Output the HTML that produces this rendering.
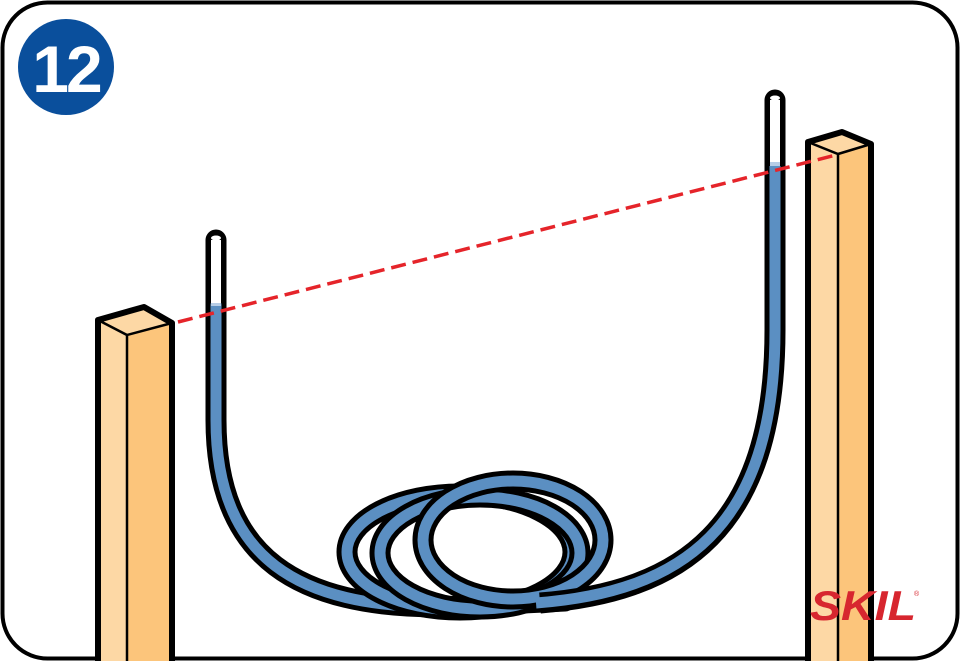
<!DOCTYPE html>
<html><head><meta charset="utf-8"><style>html,body{margin:0;padding:0;background:#fff}svg{display:block}</style></head>
<body>
<svg width="960" height="661" viewBox="0 0 960 661" xmlns="http://www.w3.org/2000/svg">
<rect x="2.5" y="2.5" width="955" height="656" rx="45" fill="#fff" stroke="#000" stroke-width="4"/>
<circle cx="66" cy="67" r="48" fill="#0a4f9c"/>
<text x="66" y="92" text-anchor="middle" font-family="Liberation Sans, sans-serif" font-weight="bold" font-size="66" fill="#fff" letter-spacing="-3">12</text>

<polygon points="98,320 127,335 127,661 98,661" fill="#fdd8a5"/>
<polygon points="127,335 172,323 172,661 127,661" fill="#fcc57b"/>
<polygon points="98,320 144,307 172,323 127,335" fill="#fdd8a5"/>
<path d="M98,661 L98,320 L144,307 L172,323 L172,661" fill="none" stroke="#000" stroke-width="6" stroke-linejoin="round"/>
<path d="M98,320 L127,335 L172,323 M127,335 L127,661" fill="none" stroke="#000" stroke-width="2.5"/>

<polygon points="808,142 838,154 838,661 808,661" fill="#fdd8a5"/>
<polygon points="838,154 871,144 871,661 838,661" fill="#fcc57b"/>
<polygon points="808,142 842,132 871,144 838,154" fill="#fdd8a5"/>
<path d="M808,661 L808,142 L842,132 L871,144 L871,661" fill="none" stroke="#000" stroke-width="6" stroke-linejoin="round"/>
<path d="M808,142 L838,154 L871,144 M838,154 L838,661" fill="none" stroke="#000" stroke-width="2.5"/>

<g fill="none" stroke-linecap="round">
<path d="M216,240 L216,420 C216,560 300,607 440,607 L565,601" stroke="#000" stroke-width="21"/>
<path d="M216,305 L216,420 C216,560 300,607 440,607 L565,601" stroke="#5b8fc2" stroke-width="11"/>
<ellipse cx="460" cy="552" rx="113" ry="58" stroke="#000" stroke-width="21"/>
<ellipse cx="460" cy="552" rx="113" ry="58" stroke="#5b8fc2" stroke-width="11"/>
<ellipse cx="480" cy="553" rx="100" ry="56" stroke="#000" stroke-width="21"/>
<ellipse cx="480" cy="553" rx="100" ry="56" stroke="#5b8fc2" stroke-width="11"/>
<ellipse cx="513" cy="540" rx="90" ry="59" stroke="#000" stroke-width="21"/>
<ellipse cx="513" cy="540" rx="90" ry="59" stroke="#5b8fc2" stroke-width="11"/>
<path d="M540,603 C680,592 775,530 775,330 L775,100" stroke="#000" stroke-width="21" stroke-linecap="butt"/>
<path d="M536,603 C680,592 775,530 775,330 L775,166" stroke="#5b8fc2" stroke-width="11" stroke-linecap="butt"/>
<path d="M775,104 L775,100" stroke="#000" stroke-width="21"/>
<g stroke="#fff" stroke-width="10" stroke-linecap="butt">
<path d="M216,240 L216,304"/><path d="M775,100 L775,164"/>
</g>
<g stroke="#b7cde6" stroke-width="10" stroke-linecap="butt">
<path d="M216,303 L216,306"/><path d="M775,162 L775,166"/>
</g>
</g>
<ellipse cx="216" cy="238" rx="5" ry="2.5" fill="#fff"/>
<ellipse cx="775" cy="98" rx="5" ry="2.5" fill="#fff"/>

<line x1="178" y1="322" x2="836" y2="155" stroke="#e5242a" stroke-width="3.5" stroke-dasharray="15,7"/>

<text x="810" y="620" textLength="106" lengthAdjust="spacingAndGlyphs" font-family="Liberation Sans, sans-serif" font-weight="bold" font-style="italic" font-size="42" fill="#d7262f">SKIL</text>
<text x="914" y="596" font-family="Liberation Sans, sans-serif" font-size="7" fill="#d7262f">®</text>
</svg>
</body></html>
